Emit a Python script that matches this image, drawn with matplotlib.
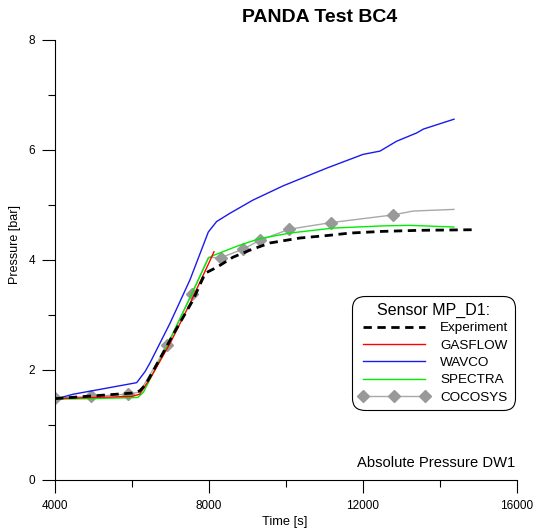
import matplotlib
matplotlib.use("Agg")
import matplotlib.pyplot as plt
from matplotlib.ticker import MultipleLocator

plt.rcParams['font.family'] = ['Liberation Sans', 'DejaVu Sans']

# values (time in s, pressure in bar)
exp_t = [4000, 5000, 6000, 6200, 6350, 7065, 7584, 7900, 8210, 8620, 9065,
         9584, 10364, 11143, 11662, 12500, 13500, 14830]
exp_p = [1.48, 1.53, 1.58, 1.62, 1.73, 2.64, 3.27, 3.76, 3.87, 4.05, 4.18,
         4.31, 4.40, 4.45, 4.49, 4.52, 4.54, 4.55]

gas_t = [4000, 5000, 6000, 6200, 6500, 7000, 7500, 8000, 8130]
gas_p = [1.48, 1.50, 1.52, 1.56, 1.88, 2.50, 3.20, 3.95, 4.15]

wav_t = [4000, 4476, 5342, 6122, 6338, 6468, 6987, 7506, 7983, 8199, 8545,
         9143, 9931, 11056, 12000, 12441, 12874, 13394, 13567, 14364]
wav_p = [1.47, 1.56, 1.67, 1.77, 1.97, 2.13, 2.85, 3.64, 4.51, 4.70, 4.85,
         5.09, 5.35, 5.67, 5.92, 5.98, 6.16, 6.31, 6.38, 6.56]

spe_t = [4000, 5000, 6150, 6300, 6917, 7550, 7980, 8100, 8800, 9325, 10100,
         11220, 12500, 13200, 14360]
spe_p = [1.47, 1.48, 1.50, 1.60, 2.45, 3.38, 4.03, 4.08, 4.27, 4.39, 4.49,
         4.58, 4.62, 4.63, 4.60]

coc_t = [4000, 4927, 5904, 6200, 6917, 7550, 7990, 8303, 8892, 9325, 10086,
         11169, 12788, 13300, 14364]
coc_p = [1.49, 1.52, 1.56, 1.60, 2.45, 3.38, 4.05, 4.04, 4.20, 4.36, 4.56,
         4.68, 4.82, 4.89, 4.92]
coc_marks = [0, 1, 2, 4, 5, 7, 8, 9, 10, 11, 12]

W, H = 534, 532
fig = plt.figure(figsize=(W / 100, H / 100), dpi=100)
ax = fig.add_axes([55 / W, 1 - 480 / H, (517 - 55) / W, 440 / H])

ax.plot(coc_t, coc_p, color='#a8a8a8', lw=1.0, marker='D', ms=6,
        mfc='#999999', mec='#999999', markevery=coc_marks, label='COCOSYS', zorder=2)
ax.plot(spe_t, spe_p, color='#00ee00', lw=1.0, label='SPECTRA', zorder=3)
ax.plot(wav_t, wav_p, color='#1a1aee', lw=1.0, label='WAVCO', zorder=3)
ax.plot(gas_t, gas_p, color='#ff0000', lw=1.0, label='GASFLOW', zorder=3)
ax.plot(exp_t, exp_p, color='black', lw=2.0, ls=(0, (3, 2)), label='Experiment', zorder=4)

ax.set_xlim(4000, 16000)
ax.set_ylim(0, 8)
ax.xaxis.set_major_locator(MultipleLocator(4000))
ax.xaxis.set_minor_locator(MultipleLocator(2000))
ax.yaxis.set_major_locator(MultipleLocator(2))
ax.yaxis.set_minor_locator(MultipleLocator(1))
ax.tick_params(which='major', length=9.5, width=0.8, labelsize=8.5)
ax.tick_params(which='minor', length=5, width=0.8)
ax.tick_params(axis='y', pad=5)
ax.tick_params(axis='x', pad=5)
for s in ['top', 'right']:
    ax.spines[s].set_visible(False)
for s in ['left', 'bottom']:
    ax.spines[s].set_linewidth(0.8)

fig.text(320 / W, 1 - 17 / H, 'PANDA Test BC4', ha='center', va='center',
         fontsize=14, fontweight='bold')
fig.text(15 / W, 1 - 244 / H, 'Pressure [bar]', rotation=90, ha='center',
         va='center', fontsize=9)
fig.text(285 / W, 1 - 522 / H, 'Time [s]', ha='center', va='center', fontsize=9.3)
fig.text(515 / W, 1 - 463 / H, 'Absolute Pressure DW1', ha='right', va='center',
         fontsize=10.6)

handles, labels = ax.get_legend_handles_labels()
order = ['Experiment', 'GASFLOW', 'WAVCO', 'SPECTRA', 'COCOSYS']
hmap = dict(zip(labels, handles))
leg = ax.legend([hmap[k] for k in order], order, loc='upper right',
                bbox_to_anchor=(515 / W, 1 - 296 / H), bbox_transform=fig.transFigure,
                borderaxespad=0, fontsize=9.7, title='Sensor MP_D1:',
                title_fontsize=11.5, handlelength=5.2, handletextpad=0.8,
                labelspacing=0.36, numpoints=3, fancybox=True, framealpha=1,
                edgecolor='black', borderpad=0.5)
leg.get_frame().set_linewidth(0.8)
leg.get_frame().set_boxstyle('round', pad=0.0, rounding_size=0.9)
leg._legend_box.sep = 3

fig.savefig('out.png', dpi=100)
